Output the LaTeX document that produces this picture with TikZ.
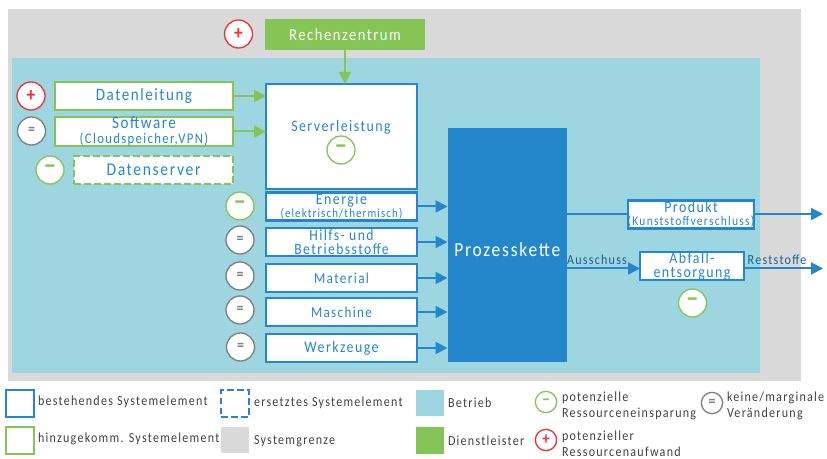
\documentclass[tikz,border=0pt]{standalone}
\usepackage{fontspec}
\setmainfont{Carlito}[LetterSpace=9,FakeStretch=0.87]
\usetikzlibrary{arrows.meta}
\definecolor{prozessblau}{HTML}{2587CB}
\definecolor{betriebblau}{HTML}{9DD5E1}
\definecolor{grenzgrau}{HTML}{D9D9D9}
\definecolor{dienstgruen}{HTML}{84C556}
\definecolor{plusrot}{HTML}{EE3131}
\definecolor{gleichgrau}{HTML}{7F7F7F}
\newcommand{\zusatz}[2]{{\fontsize{#1}{#1}\selectfont #2}}
\begin{document}
\begin{tikzpicture}[x=0.75pt,y=-0.75pt]
\tikzstyle{every node}+=[inner sep=0pt,outer sep=0pt,align=center]
\tikzstyle{boxsize}=[minimum width=#1*0.75pt]
\tikzstyle{fs}=[font=\fontsize{#1}{10.5}\selectfont]
\tikzstyle{elem}=[draw=prozessblau,fill=white,line width=1.6pt,text=prozessblau,minimum height=21pt]
\tikzstyle{neu}=[elem,draw=dienstgruen]
\tikzstyle{strich}=[dash pattern=on 5pt off 2.5pt]
\tikzstyle{res}=[circle,draw,fill=white,line width=1pt,minimum size=21pt]
\tikzstyle{plus}=[res,draw=plusrot,text=plusrot,font=\fontsize{15}{15}\selectfont\bfseries]
\tikzstyle{minus}=[res,draw=dienstgruen,text=dienstgruen,font=\fontsize{20}{20}\selectfont\bfseries]
\tikzstyle{gleich}=[res,draw=gleichgrau,text=gleichgrau,font=\fontsize{12}{12}\selectfont\bfseries]
\tikzstyle{legres}=[minimum size=16pt]
\tikzstyle{greenline}=[dienstgruen,line width=1.5pt,-{Triangle[length=9pt,width=9pt]}]
\tikzstyle{blueline}=[prozessblau,line width=1.5pt,-{Triangle[length=9pt,width=9pt]}]
\tikzstyle{flowtext}=[text=prozessblau!70!black,fs=10.4]
\tikzstyle{legtext}=[anchor=west,align=left,text=black!75,font=\fontsize{10.4}{12}\selectfont]
\tikzstyle{swatch}=[minimum width=21pt,minimum height=20pt]
\useasboundingbox (0,0) rectangle (827,459);
\fill [grenzgrau] (7.5,9) rectangle (801,381);
\fill [betriebblau] (11.5,58) rectangle (760,373);
\node [fill=dienstgruen,text=white,boxsize=160,minimum height=23pt,fs=12.6] (rechenzentrum) at (345,34.5) {Rechenzentrum};
\node [plus] (rzplus) at (238.5,34) {+};
\node [elem,boxsize=151,minimum height=79pt] (server) at (341.5,136.5) {};
\node [text=prozessblau,fs=12] (servertext) at (341,127) {Serverleistung};
\node [minus] (serverminus) at (341,150) {−};
\node [neu,boxsize=178,fs=13] (datenleitung) at (144,96) {Datenleitung};
\node [plus] (leitungplus) at (31,96) {+};
\node [neu,boxsize=178,font=\fontsize{13}{11}\selectfont] (software) at (144,131.5) {Software\\\zusatz{11}{(Cloudspeicher,VPN)}};
\node [gleich] (softwaregleich) at (31.5,131) {=};
\node [neu,strich,boxsize=159,fs=13.5] (datenserver) at (153.5,170) {Datenserver};
\node [minus] (datenminus) at (50,170) {−};
\node [elem,boxsize=151,fs=12] (energie) at (341.5,206.5) {Energie\\[-1pt]\zusatz{9.4}{(elektrisch/thermisch)}};
\node [minus] (energieminus) at (240,206) {−};
\node [elem,boxsize=151,font=\fontsize{11.8}{10.8}\selectfont] (hilfs) at (341.5,242) {Hilfs- und\\Betriebsstoffe};
\node [gleich] (hilfsgleich) at (240,240) {=};
\node [elem,boxsize=151,fs=11.4] (material) at (341.5,278) {Material};
\node [gleich] (materialgleich) at (240,276) {=};
\node [elem,boxsize=151,fs=11.3] (maschine) at (341.5,312) {Maschine};
\node [gleich] (maschinegleich) at (240,310) {=};
\node [elem,boxsize=151,fs=12] (werkzeuge) at (341.5,348) {Werkzeuge};
\node [gleich] (werkzeugegleich) at (240.5,347) {=};
\node [fill=prozessblau,boxsize=119.5,minimum height=175.5pt] (prozesskette) at (507.25,245) {};
\node [text=white,fs=15] (prozesstext) at (507.25,250) {Prozesskette};
\node [elem,boxsize=126,fs=12] (produkt) at (691,214.5) {Produkt\\[-1pt]\zusatz{10}{(Kunststoffverschluss)}};
\node [elem,boxsize=104,fs=12] (abfall) at (692,266) {Abfall-\\entsorgung};
\node [minus] (abfallminus) at (692.5,303) {−};
\coordinate (produktaus) at (823,214);
\coordinate (restaus) at (823,268.5);
\draw [greenline] (rechenzentrum.south) -- (rechenzentrum.south |- server.north);
\draw [greenline] (datenleitung) -- (datenleitung -| server.west);
\draw [greenline] (software) -- (software -| server.west);
\draw [blueline] (energie) -- (energie -| prozesskette.west);
\draw [blueline] (hilfs) -- (hilfs -| prozesskette.west);
\draw [blueline] (material) -- (material -| prozesskette.west);
\draw [blueline] (maschine) -- (maschine -| prozesskette.west);
\draw [blueline] (werkzeuge) -- (werkzeuge -| prozesskette.west);
\draw [prozessblau,line width=1.5pt] (prozesskette.east |- produktaus) -- (produkt.west |- produktaus);
\draw [blueline] (produkt.east |- produktaus) -- (produktaus);
\draw [blueline] (prozesskette.east |- restaus) -- (abfall.west |- restaus);
\draw [blueline] (abfall.east |- restaus) -- (restaus);
\node [flowtext] (ausschuss) at (597,260) {Ausschuss};
\node [flowtext] (reststoffe) at (777,260) {Reststoffe};
\node [draw=prozessblau,line width=1.4pt,swatch,fill=white] (legbestehend) at (20,403.5) {};
\node [legtext] (legbestehendtext) at (38,402) {bestehendes Systemelement};
\node [draw=prozessblau,strich,line width=1.4pt,swatch] (legersetzt) at (235,403.5) {};
\node [legtext] (legersetzttext) at (254,403) {ersetztes Systemelement};
\node [draw=dienstgruen,line width=1.4pt,swatch,fill=white] (leghinzu) at (20,440.5) {};
\node [legtext] (leghinzutext) at (38,439) {hinzugekomm. Systemelement};
\node [fill=grenzgrau,swatch] (leggrenze) at (235,440) {};
\node [legtext] (leggrenzetext) at (254,441.5) {Systemgrenze};
\node [fill=betriebblau,swatch] (legbetrieb) at (430,403) {};
\node [legtext] (legbetriebtext) at (448,403) {Betrieb};
\node [fill=dienstgruen,swatch] (legdienst) at (430,440.5) {};
\node [legtext] (legdiensttext) at (448,441) {Dienstleister};
\node [minus,legres,font=\fontsize{13.5}{13.5}\selectfont\bfseries] (legminus) at (546,402) {−};
\node [legtext] (legminustext) at (562,405.5) {potenzielle\\Ressourceneinsparung};
\node [plus,legres,font=\fontsize{13}{13}\selectfont\bfseries] (legplus) at (546,440) {+};
\node [legtext] (legplustext) at (562,443.5) {potenzieller\\Ressourcenaufwand};
\node [gleich,legres] (leggleich) at (712,403) {=};
\node [legtext] (leggleichtext) at (727,405.5) {keine/marginale\\Veränderung};
\end{tikzpicture}
\end{document}
